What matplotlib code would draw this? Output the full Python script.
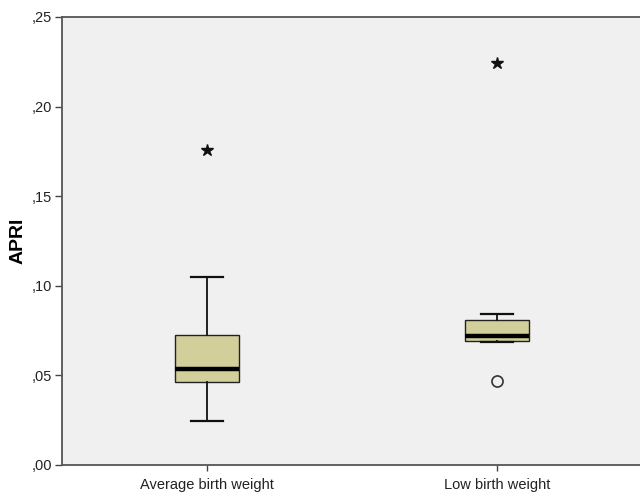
import matplotlib.pyplot as plt

# APRI by birth-weight group
groups = ["Average birth weight", "Low birth weight"]
whisker_low = [0.0245, 0.0685]
q1 = [0.0463, 0.0694]
median = [0.0536, 0.0722]
q3 = [0.0725, 0.0807]
whisker_high = [0.1049, 0.0841]

# outliers: circles (mild), stars (extreme)
outlier_group = [2]
outlier_value = [0.0470]
extreme_group = [1, 2]
extreme_value = [0.1758, 0.2243]

y_ticks = [0.0, 0.05, 0.10, 0.15, 0.20, 0.25]
y_tick_labels = [",00", ",05", ",10", ",15", ",20", ",25"]


def main():
    plt.rcParams["font.family"] = ["Liberation Sans", "DejaVu Sans"]

    fig = plt.figure(figsize=(6.4, 4.92), dpi=100)
    ax = fig.add_axes([62 / 640, 27 / 492, 580 / 640, 448 / 492])
    ax.set_facecolor("#f0f0f0")

    stats = []
    for i, name in enumerate(groups):
        stats.append({
            "label": name,
            "whislo": whisker_low[i],
            "q1": q1[i],
            "med": median[i],
            "q3": q3[i],
            "whishi": whisker_high[i],
            "fliers": [],
        })

    ax.bxp(
        stats,
        positions=[1, 2],
        widths=0.224,
        capwidths=0.11,
        patch_artist=True,
        showfliers=False,
        boxprops=dict(facecolor="#d3cf9b", edgecolor="#222222", linewidth=1.0),
        medianprops=dict(color="black", linewidth=3.2, solid_capstyle="butt"),
        whiskerprops=dict(color="#111111", linewidth=1.3),
        capprops=dict(color="#111111", linewidth=1.6),
    )

    ax.plot(outlier_group, outlier_value, linestyle="none", marker="o",
            markersize=8, markerfacecolor="none", markeredgecolor="#333333",
            markeredgewidth=1.2)
    ax.plot(extreme_group, extreme_value, linestyle="none", marker="*",
            markersize=9, color="#111111")

    ax.set_xlim(0.5, 2.5)
    ax.set_ylim(0, 0.25)
    ax.set_yticks(y_ticks)
    ax.set_yticklabels(y_tick_labels)
    ax.set_xticks([1, 2])
    ax.set_xticklabels(groups)
    ax.tick_params(axis="both", colors="#444444", labelcolor="#222222",
                   labelsize=10.5, length=5, width=1, pad=2)
    ax.tick_params(axis="x", length=4, pad=5)

    for side in ["left", "top", "bottom", "right"]:
        ax.spines[side].set_color("#555555")
        ax.spines[side].set_linewidth(1.3)

    ax.set_ylabel("APRI", fontsize=14, fontweight="bold", labelpad=4)

    fig.savefig("out.png", dpi=100)
    plt.close(fig)


if __name__ == "__main__":
    main()
